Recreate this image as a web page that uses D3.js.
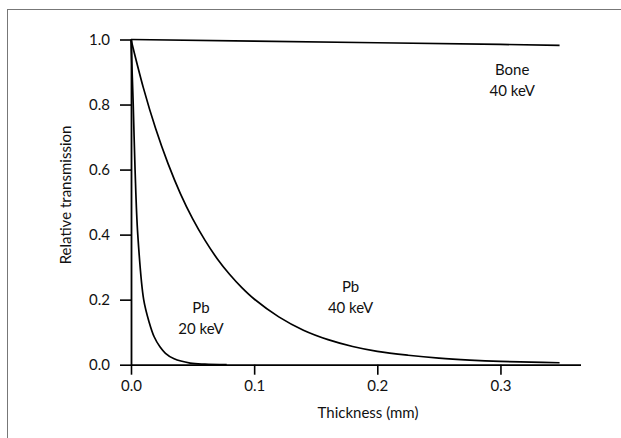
<!DOCTYPE html>
<html>
<head>
<meta charset="utf-8">
<script src="https://cdn.jsdelivr.net/npm/d3@7"></script>
<style>
  html, body { margin: 0; padding: 0; background: #fff; }
  svg { display: block; }
  text { font-family: Lato, "Open Sans", sans-serif; fill: #111; }
</style>
</head>
<body>
<div id="chart"></div>
<script>
// Thickness in mm, relative transmission (0..1)
const pb20 = [
  [0, 1.0], [0.0018, 0.8], [0.0033, 0.6], [0.0055, 0.4], [0.0103, 0.2],
  [0.0148, 0.13], [0.0188, 0.086], [0.0235, 0.055], [0.028, 0.035],
  [0.035, 0.018], [0.048, 0.005], [0.06, 0.0015], [0.0777, 0.0]
];
const pb40 = [
  [0, 1.0], [0.01, 0.852], [0.02, 0.726], [0.03, 0.619], [0.04, 0.527],
  [0.05, 0.449], [0.06, 0.383], [0.07, 0.326], [0.08, 0.278], [0.09, 0.237],
  [0.10, 0.202], [0.12, 0.147], [0.14, 0.106], [0.16, 0.077], [0.18, 0.056],
  [0.20, 0.041], [0.225, 0.029], [0.25, 0.020], [0.275, 0.014], [0.30, 0.010],
  [0.325, 0.008], [0.348, 0.006]
];
const bone40 = [[0, 1.0], [0.1, 0.995], [0.2, 0.99], [0.3, 0.985], [0.348, 0.982]];

const xTicks = [0, 0.1, 0.2, 0.3];
const yTicks = [0, 0.2, 0.4, 0.6, 0.8, 1.0];

// annotation text; anchor is the first line's baseline in data units
const curveLabels = [
  { lines: ["Bone", "40 keV"], at: [0.3095, 0.892] },
  { lines: ["Pb", "40 keV"], at: [0.1783, 0.223] },
  { lines: ["Pb", "20 keV"], at: [0.0568, 0.160] }
];

const W = 621, H = 438;
const svg = d3.select("#chart").append("svg").attr("width", W).attr("height", H);

// outer frame
svg.append("rect")
  .attr("x", 7.5).attr("y", 9.5).attr("width", 620).attr("height", 440)
  .attr("fill", "none").attr("stroke", "#777").attr("stroke-width", 1);

const x = d3.scaleLinear().domain([0, 0.365]).range([131, 580.5]);
const y = d3.scaleLinear().domain([0, 1]).range([364.7, 39.5]);

const fmt = d3.format(".1f");

const gx = svg.append("g").attr("transform", `translate(0,${y(0)})`)
  .call(d3.axisBottom(x).tickValues(xTicks).tickFormat(fmt).tickSize(10).tickSizeOuter(0).tickPadding(6));
const gy = svg.append("g").attr("transform", `translate(${x(0)},0)`)
  .call(d3.axisLeft(y).tickValues(yTicks).tickFormat(fmt).tickSize(11).tickSizeOuter(0).tickPadding(10));

[gx, gy].forEach(g => {
  g.select(".domain").attr("stroke", "#000").attr("stroke-width", 1.8);
  g.selectAll(".tick line").attr("stroke", "#000").attr("stroke-width", 1.6);
  g.selectAll(".tick text").attr("font-size", 15).attr("font-family", "Lato, sans-serif").attr("fill", "#111");
});

const line = d3.line().x(d => x(d[0])).y(d => y(d[1]));

svg.append("path")
  .attr("d", line.curve(d3.curveLinear)(bone40))
  .attr("fill", "none").attr("stroke", "#000").attr("stroke-width", 1.7);
svg.append("path")
  .attr("d", line.curve(d3.curveCatmullRom.alpha(0.5))(pb40))
  .attr("fill", "none").attr("stroke", "#000").attr("stroke-width", 1.7);
svg.append("path")
  .attr("d", line.curve(d3.curveCatmullRom.alpha(0.5))(pb20))
  .attr("fill", "none").attr("stroke", "#000").attr("stroke-width", 1.7);

// curve annotations
curveLabels.forEach(l => {
  const t = svg.append("text")
    .attr("x", x(l.at[0])).attr("y", y(l.at[1]))
    .attr("text-anchor", "middle").attr("font-size", 15);
  l.lines.forEach((s, i) => {
    t.append("tspan").attr("x", x(l.at[0])).attr("dy", i === 0 ? 0 : 21).text(s);
  });
});

// axis titles
svg.append("text")
  .attr("x", 368).attr("y", 418)
  .attr("text-anchor", "middle").attr("font-size", 15)
  .text("Thickness (mm)");
svg.append("text")
  .attr("transform", `translate(71,195) rotate(-90)`)
  .attr("text-anchor", "middle").attr("font-size", 15)
  .text("Relative transmission");
</script>
</body>
</html>
